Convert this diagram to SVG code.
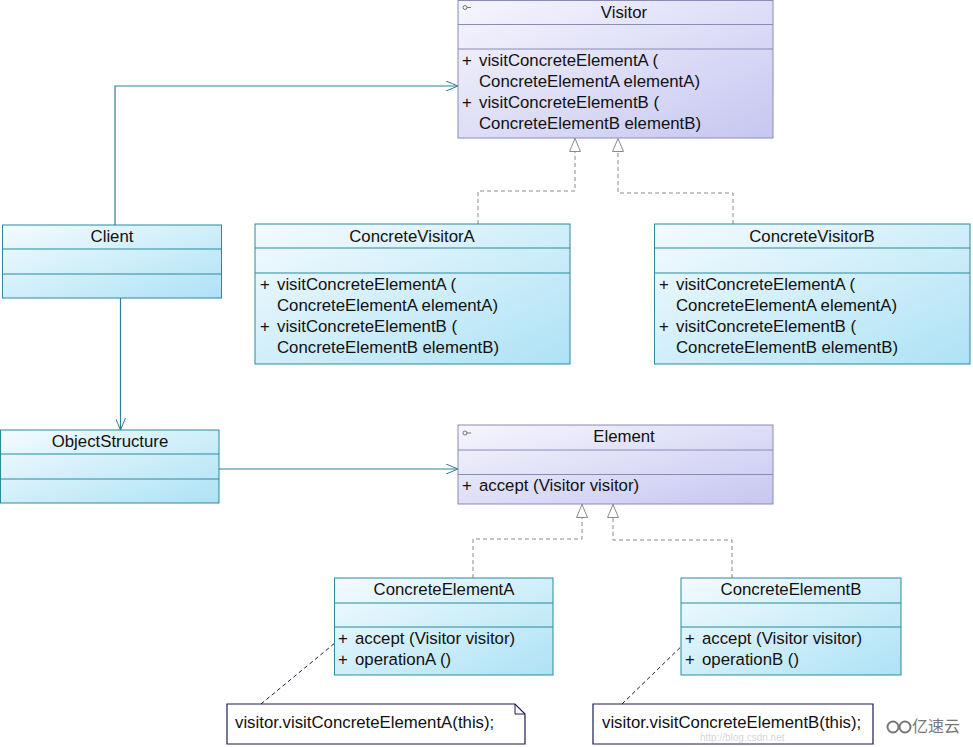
<svg xmlns="http://www.w3.org/2000/svg" width="973" height="747" viewBox="0 0 973 747">
<defs>
<linearGradient id="gc" x1="0" y1="0" x2="1" y2="1">
<stop offset="0" stop-color="#f4fbfe"/>
<stop offset="1" stop-color="#ade2f5"/>
</linearGradient>
<linearGradient id="gl" x1="0" y1="0" x2="1" y2="1">
<stop offset="0" stop-color="#f6f6fd"/>
<stop offset="1" stop-color="#c6c6f1"/>
</linearGradient>
<marker id="open" viewBox="0 0 12 10" refX="12" refY="5" markerWidth="12" markerHeight="10" markerUnits="userSpaceOnUse" orient="auto">
<path d="M0,0 L12,5 L0,10" fill="none" stroke="#2e7f97" stroke-width="1"/>
</marker>
<marker id="tri" viewBox="0 0 14 12" refX="14" refY="6" markerWidth="14" markerHeight="12" markerUnits="userSpaceOnUse" orient="auto">
<path d="M0.5,0.5 L13.5,6 L0.5,11.5 Z" fill="#fff" stroke="#8a8a8a" stroke-width="1"/>
</marker>
</defs>
<style>
text{font-family:"Liberation Sans",Arial,sans-serif;font-size:16.8px;fill:#111}
.t{text-anchor:middle}
.cy{fill:url(#gc);stroke:#2a8a9c;stroke-width:1}
.lv{fill:url(#gl);stroke:#8a8ab8;stroke-width:1}
.sc{stroke:#2a8a9c;stroke-width:1}
.sl{stroke:#8a8ab8;stroke-width:1}
.as{fill:none;stroke:#2e7f97;stroke-width:1.2}
.gen{fill:none;stroke:#8a8a8a;stroke-width:1;stroke-dasharray:4,3}
.nl{fill:none;stroke:#1c1c50;stroke-width:1;stroke-dasharray:4,3}
.note{fill:#fff;stroke:#1c1c50;stroke-width:1.2}
</style>
<rect width="973" height="747" fill="#fff"/>

<g id="connectors">
<path class="as" d="M115,225 V86 H458" marker-end="url(#open)"/>
<path class="as" d="M120.5,298 V430" marker-end="url(#open)"/>
<path class="as" d="M219,469 H458" marker-end="url(#open)"/>
<path class="gen" d="M478,224 V191 H575 V138" marker-end="url(#tri)"/>
<path class="gen" d="M733,224 V193 H618 V138" marker-end="url(#tri)"/>
<path class="gen" d="M473,578 V539 H582 V504" marker-end="url(#tri)"/>
<path class="gen" d="M732,578 V540 H613 V504" marker-end="url(#tri)"/>
<path class="nl" d="M261,704 L341,638"/>
<path class="nl" d="M622,704 L690,638"/>
</g>

<g id="Visitor">
<rect class="lv" x="458" y="0.5" width="315" height="137.5"/>
<line class="sl" x1="458" y1="24.5" x2="773" y2="24.5"/>
<line class="sl" x1="458" y1="49" x2="773" y2="49"/>
<circle cx="465" cy="7.5" r="2" fill="none" stroke="#555" stroke-width="0.8"/>
<line x1="467" y1="7.5" x2="471" y2="7.5" stroke="#555" stroke-width="0.8"/>
<text class="t" x="624" y="18">Visitor</text>
<text x="462" y="66">+</text><text x="479" y="66">visitConcreteElementA (</text>
<text x="479" y="87">ConcreteElementA elementA)</text>
<text x="462" y="108">+</text><text x="479" y="108">visitConcreteElementB (</text>
<text x="479" y="129">ConcreteElementB elementB)</text>
</g>

<g id="Client">
<rect class="cy" x="2.5" y="225" width="219" height="73"/>
<line class="sc" x1="2.5" y1="249" x2="221.5" y2="249"/>
<line class="sc" x1="2.5" y1="274" x2="221.5" y2="274"/>
<text class="t" x="112" y="242">Client</text>
</g>

<g id="ConcreteVisitorA">
<rect class="cy" x="255" y="224" width="315" height="140"/>
<line class="sc" x1="255" y1="248" x2="570" y2="248"/>
<line class="sc" x1="255" y1="273" x2="570" y2="273"/>
<text class="t" x="412" y="242">ConcreteVisitorA</text>
<text x="260" y="290">+</text><text x="277" y="290">visitConcreteElementA (</text>
<text x="277" y="311">ConcreteElementA elementA)</text>
<text x="260" y="332">+</text><text x="277" y="332">visitConcreteElementB (</text>
<text x="277" y="353">ConcreteElementB elementB)</text>
</g>

<g id="ConcreteVisitorB">
<rect class="cy" x="654.5" y="224" width="315.5" height="140"/>
<line class="sc" x1="654.5" y1="248" x2="970" y2="248"/>
<line class="sc" x1="654.5" y1="273" x2="970" y2="273"/>
<text class="t" x="812" y="242">ConcreteVisitorB</text>
<text x="659" y="290">+</text><text x="676" y="290">visitConcreteElementA (</text>
<text x="676" y="311">ConcreteElementA elementA)</text>
<text x="659" y="332">+</text><text x="676" y="332">visitConcreteElementB (</text>
<text x="676" y="353">ConcreteElementB elementB)</text>
</g>

<g id="ObjectStructure">
<rect class="cy" x="0.5" y="430" width="218.5" height="73"/>
<line class="sc" x1="0.5" y1="454" x2="219" y2="454"/>
<line class="sc" x1="0.5" y1="479" x2="219" y2="479"/>
<text class="t" x="110" y="447">ObjectStructure</text>
</g>

<g id="Element">
<rect class="lv" x="458" y="425" width="315" height="79"/>
<line class="sl" x1="458" y1="450" x2="773" y2="450"/>
<line class="sl" x1="458" y1="474.5" x2="773" y2="474.5"/>
<circle cx="465" cy="433" r="2" fill="none" stroke="#555" stroke-width="0.8"/>
<line x1="467" y1="433" x2="471" y2="433" stroke="#555" stroke-width="0.8"/>
<text class="t" x="624" y="442">Element</text>
<text x="462" y="491">+</text><text x="479" y="491">accept (Visitor visitor)</text>
</g>

<g id="ConcreteElementA">
<rect class="cy" x="334.5" y="578" width="218.5" height="97"/>
<line class="sc" x1="334.5" y1="603" x2="553" y2="603"/>
<line class="sc" x1="334.5" y1="627" x2="553" y2="627"/>
<text class="t" x="444" y="595">ConcreteElementA</text>
<text x="338" y="644">+</text><text x="355" y="644">accept (Visitor visitor)</text>
<text x="338" y="665">+</text><text x="355" y="665">operationA ()</text>
</g>

<g id="ConcreteElementB">
<rect class="cy" x="681" y="578" width="220" height="97"/>
<line class="sc" x1="681" y1="603" x2="901" y2="603"/>
<line class="sc" x1="681" y1="627" x2="901" y2="627"/>
<text class="t" x="791" y="595">ConcreteElementB</text>
<text x="685" y="644">+</text><text x="702" y="644">accept (Visitor visitor)</text>
<text x="685" y="665">+</text><text x="702" y="665">operationB ()</text>
</g>

<g id="NoteA">
<path class="note" d="M227,704 H515 L525,714 V744 H227 Z"/>
<path d="M515,704 V714 H525" fill="none" stroke="#1c1c50" stroke-width="1"/>
<text x="235" y="728">visitor.visitConcreteElementA(this);</text>
</g>

<g id="NoteB">
<path class="note" d="M593,704 H873 V744 H593 Z"/>
<text x="602" y="728">visitor.visitConcreteElementB(this);</text>
<text x="700" y="741" style="font-size:10px;fill:#999;opacity:0.4">http://blog.csdn.net</text>
</g>

<g id="watermark">
<rect x="874" y="690" width="99" height="57" fill="#fff"/>
<circle cx="893" cy="727" r="5.5" fill="none" stroke="#777" stroke-width="2"/>
<circle cx="905" cy="727" r="5.5" fill="none" stroke="#777" stroke-width="2"/>
<text x="912" y="732" style="font-family:'Noto Sans CJK SC',sans-serif;font-size:16px;fill:#777">亿速云</text>
</g>
</svg>
